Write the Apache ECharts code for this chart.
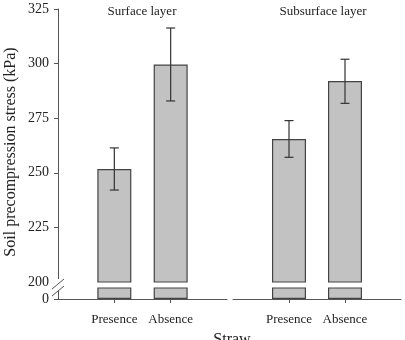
<!DOCTYPE html>
<html>
<head>
<meta charset="utf-8">
<script src="https://cdn.jsdelivr.net/npm/echarts@6/dist/echarts.min.js"></script>
<style>
  html, body { margin: 0; padding: 0; background: #fff; }
  #main { width: 405px; height: 340px; }
</style>
</head>
<body>
<div id="main"></div>
<script>
// data
const layers = ['Surface layer', 'Subsurface layer'];
const strawLevels = ['Presence', 'Absence'];
const surfaceMean = [251.7, 299.6];
const surfaceLow = [242.1, 282.9];
const surfaceHigh = [261.4, 316.3];
const subsurfaceMean = [265.5, 292.0];
const subsurfaceLow = [257.1, 281.8];
const subsurfaceHigh = [273.9, 302.0];
const yUpperTicks = [200, 225, 250, 275, 300, 325];
const yLowerTicks = [0];

const FONT = 'Liberation Serif';
const AXIS = '#555';
const TEXT = '#222';

const chart = echarts.init(document.getElementById('main'), null, { renderer: 'canvas' });

const means = [surfaceMean, subsurfaceMean];
const lows = [surfaceLow, subsurfaceLow];
const highs = [surfaceHigh, subsurfaceHigh];

function renderErr(params, api) {
  const x = api.value(0);
  const lo = api.coord([x, api.value(1)]);
  const hi = api.coord([x, api.value(2)]);
  const half = 4.5;
  const style = { stroke: '#333', lineWidth: 1.2 };
  return {
    type: 'group',
    children: [
      { type: 'line', shape: { x1: lo[0], y1: lo[1], x2: hi[0], y2: hi[1] }, style: style },
      { type: 'line', shape: { x1: lo[0] - half, y1: lo[1], x2: lo[0] + half, y2: lo[1] }, style: style },
      { type: 'line', shape: { x1: hi[0] - half, y1: hi[1], x2: hi[0] + half, y2: hi[1] }, style: style }
    ]
  };
}

// grids: 0 upper-left, 1 upper-right, 2 lower-left, 3 lower-right
const grids = [
  { left: 58, width: 169, top: 9, height: 273 },
  { left: 233, width: 168, top: 9, height: 273 },
  { left: 58, width: 169, top: 288, height: 11 },
  { left: 233, width: 168, top: 288, height: 11 }
];

const xAxes = grids.map((g, i) => {
  const lower = i >= 2;
  return {
    type: 'value',
    gridIndex: i,
    min: 0,
    max: 3,
    show: lower,
    splitLine: { show: false },
    axisLine: { show: lower, lineStyle: { color: AXIS, width: 1 } },
    axisTick: { show: lower, customValues: [1, 2], length: 4, lineStyle: { color: AXIS } },
    axisLabel: {
      show: lower,
      customValues: [1, 2],
      formatter: v => strawLevels[v - 1],
      margin: 14,
      fontFamily: FONT,
      fontSize: 13,
      color: TEXT
    }
  };
});

const yAxes = [
  {
    type: 'value', gridIndex: 0, min: 200, max: 325, interval: 25,
    splitLine: { show: false },
    axisLine: { show: true, lineStyle: { color: AXIS } },
    axisTick: { show: true, length: 4, customValues: yUpperTicks, lineStyle: { color: AXIS } },
    axisLabel: { customValues: yUpperTicks, margin: 9, fontFamily: FONT, fontSize: 14, color: TEXT }
  },
  { type: 'value', gridIndex: 1, min: 200, max: 325, show: false, splitLine: { show: false } },
  {
    type: 'value', gridIndex: 2, min: 0, max: 10,
    splitLine: { show: false },
    axisLine: { show: true, lineStyle: { color: AXIS } },
    axisTick: { show: true, length: 4, customValues: yLowerTicks, lineStyle: { color: AXIS } },
    axisLabel: { customValues: yLowerTicks, margin: 9, fontFamily: FONT, fontSize: 14, color: TEXT }
  },
  { type: 'value', gridIndex: 3, min: 0, max: 10, show: false, splitLine: { show: false } }
];

const series = [];
[0, 1].forEach(p => {
  const barData = strawLevels.map((s, k) => [k + 1, means[p][k]]);
  [p, p + 2].forEach(gi => {
    series.push({
      type: 'bar',
      xAxisIndex: gi,
      yAxisIndex: gi,
      data: barData,
      barWidth: 34,
      clip: true,
      silent: true,
      itemStyle: { color: '#c2c2c2', borderColor: '#444', borderWidth: 1.2 }
    });
  });
  series.push({
    type: 'custom',
    xAxisIndex: p,
    yAxisIndex: p,
    z: 5,
    silent: true,
    encode: { x: 0, y: [1, 2] },
    data: strawLevels.map((s, k) => [k + 1, lows[p][k], highs[p][k]]),
    renderItem: renderErr
  });
});

const option = {
  animation: false,
  backgroundColor: '#fff',
  title: [
    { text: layers[0], left: 142, top: 5, padding: 0, textAlign: 'center',
      textStyle: { fontFamily: FONT, fontSize: 13, fontWeight: 'normal', color: TEXT } },
    { text: layers[1], left: 323, top: 5, padding: 0, textAlign: 'center',
      textStyle: { fontFamily: FONT, fontSize: 13, fontWeight: 'normal', color: TEXT } }
  ],
  grid: grids,
  xAxis: xAxes,
  yAxis: yAxes,
  series: series,
  graphic: [
    {
      type: 'text', x: 11, y: 152, rotation: Math.PI / 2,
      style: { text: 'Soil precompression stress (kPa)', fontFamily: FONT, fontSize: 16,
        fill: TEXT, align: 'center', verticalAlign: 'middle' }
    },
    {
      type: 'text', x: 232, y: 332,
      style: { text: 'Straw', fontFamily: FONT, fontSize: 16, fill: TEXT,
        align: 'center', verticalAlign: 'top' }
    },
    // axis break
    { type: 'rect', z: 100, shape: { x: 54, y: 279, width: 8, height: 11 }, style: { fill: '#fff' } },
    { type: 'line', z: 101, shape: { x1: 52, y1: 289, x2: 64, y2: 279 }, style: { stroke: AXIS, lineWidth: 1 } },
    { type: 'line', z: 101, shape: { x1: 52, y1: 296, x2: 64, y2: 286 }, style: { stroke: AXIS, lineWidth: 1 } }
  ]
};

chart.setOption(option);
</script>
</body>
</html>
